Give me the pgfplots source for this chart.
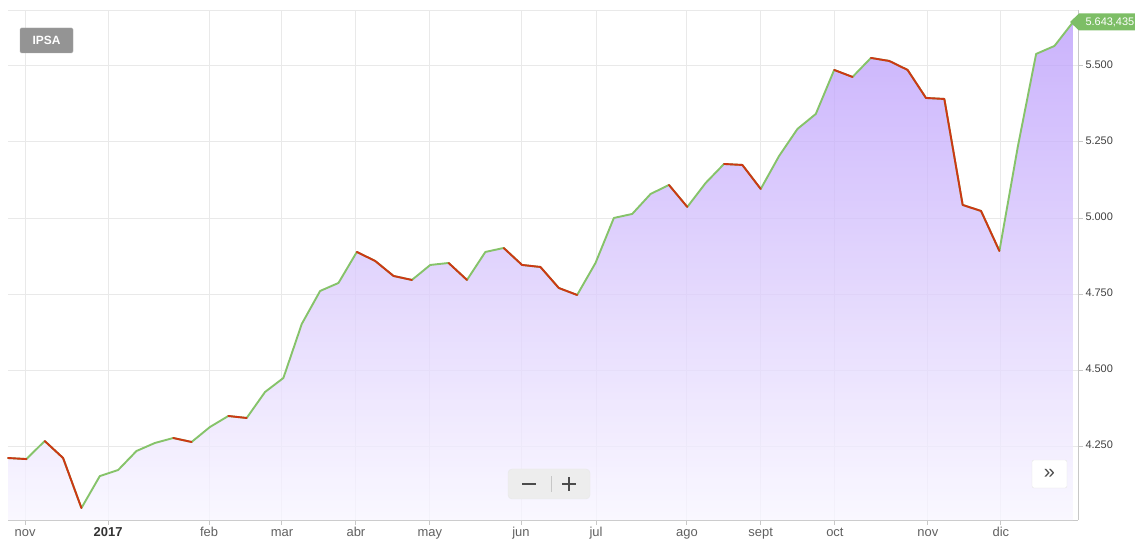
\documentclass[border=0pt]{standalone}
\usepackage{pgfplots}
\pgfplotsset{compat=1.18}
\usepackage{pgfplotstable}
\usepackage{fontspec}
\setmainfont{Liberation Sans}
\definecolor{gridgray}{HTML}{E9E9E9}
\definecolor{yeargray}{HTML}{D2D2D2}
\definecolor{axisgray}{HTML}{C8C8C8}
\definecolor{labelgray}{HTML}{606060}
\definecolor{upgreen}{HTML}{86C36A}
\definecolor{downred}{HTML}{CC3814}
\definecolor{filltop}{RGB}{188,158,251}
\definecolor{fillbot}{RGB}{248,246,255}
\definecolor{flaggreen}{HTML}{7DBE66}

\pgfplotstableread{
x y
0 4.2105
1 4.2070
2 4.2664
3 4.2105
4 4.0460
5 4.1510
6 4.1710
7 4.2336
8 4.2599
9 4.2763
10 4.2632
11 4.3125
12 4.3487
13 4.3421
14 4.4276
15 4.4737
16 4.6513
17 4.7599
18 4.7862
19 4.8882
20 4.8586
21 4.8092
22 4.7961
23 4.8454
24 4.8520
25 4.7961
26 4.8882
27 4.9013
28 4.8454
29 4.8388
30 4.7697
31 4.7467
32 4.8520
33 5.0000
34 5.0132
35 5.0789
36 5.1086
37 5.0362
38 5.1151
39 5.1776
40 5.1743
41 5.0954
42 5.2039
43 5.2928
44 5.3421
45 5.4868
46 5.4638
47 5.5263
48 5.5164
49 5.4868
50 5.3947
51 5.3914
52 5.0428
53 5.0230
54 4.8914
55 5.2336
56 5.5395
57 5.5658
58 5.6434
}\ipsa

\begin{document}
\begin{tikzpicture}
\begin{axis}[
  at={(0,0)}, anchor=south west,
  scale only axis, width=1070bp, height=510bp,
  xmin=0, xmax=58.28, ymin=4.0066, ymax=5.684,
  axis x line*=bottom, axis y line*=right,
  x axis line style={color=axisgray, line width=0.9bp, -},
  y axis line style={color=axisgray, line width=0.9bp, -},
  xtick={0.93,10.95,14.92,18.95,22.98,27.94,32.03,36.98,41.0,45.04,50.1,54.08},
  xticklabels={nov,feb,mar,abr,may,jun,jul,ago,sept,oct,nov,dic},
  extra x ticks={5.45},
  extra x tick labels={\textbf{2017}},
  extra x tick style={grid style={color=yeargray, line width=1.4bp}, xticklabel style={text=black!80}},
  ytick={4.25,4.5,4.75,5.0,5.25,5.5},
  yticklabels={4.250,4.500,4.750,5.000,5.250,5.500},
  grid=major,
  major grid style={color=gridgray, line width=0.9bp},
  tick align=outside, major tick length=5bp,
  tick style={color=axisgray, line width=0.9bp},
  typeset ticklabels with strut,
  xticklabel style={font=\fontsize{13}{15}\selectfont, text=labelgray, yshift=2bp},
  yticklabel style={font=\fontsize{11}{13}\selectfont, text=black!75, anchor=west, xshift=-1bp},
  clip=false,
]
\addplot[draw=none, top color=filltop, bottom color=fillbot, fill opacity=0.78]
  table[x=x, y=y]{\ipsa} |- (0,4.0066) -- cycle;
\addplot[color=upgreen, line width=1.9bp, line join=round, line cap=round]
  table[x=x, y=y]{\ipsa};
\addplot[color=downred, line width=1.9bp, line join=round, line cap=round, unbounded coords=jump]
  coordinates {(0,4.2105)(1,4.2070)(1.5,nan)(2,4.2664)(3,4.2105)(4,4.0460)(4.5,nan)
  (9,4.2763)(10,4.2632)(10.5,nan)(12,4.3487)(13,4.3421)(13.5,nan)
  (19,4.8882)(20,4.8586)(21,4.8092)(22,4.7961)(22.5,nan)(24,4.8520)(25,4.7961)(25.5,nan)
  (27,4.9013)(28,4.8454)(29,4.8388)(30,4.7697)(31,4.7467)(31.5,nan)
  (36,5.1086)(37,5.0362)(37.5,nan)(39,5.1776)(40,5.1743)(41,5.0954)(41.5,nan)
  (45,5.4868)(46,5.4638)(46.5,nan)
  (47,5.5263)(48,5.5164)(49,5.4868)(50,5.3947)(51,5.3914)(52,5.0428)(53,5.0230)(54,4.8914)};
\draw[gridgray, line width=0.9bp] (rel axis cs:0,1) -- (rel axis cs:1,1);
\end{axis}
% IPSA button
\draw[fill=black!42, draw=black!35, rounded corners=1.5bp] (12bp,467bp) rectangle (65bp,492bp);
\node[text=white, font=\fontsize{12}{14}\selectfont\bfseries] at (38.5bp,479.5bp) {IPSA};
% zoom buttons
\draw[fill=black!7, draw=black!9, rounded corners=4bp] (500bp,21bp) rectangle (582bp,51bp);
\draw[black!22, line width=0.8bp] (543bp,28bp) -- (543bp,44bp);
\draw[black!70, line width=2.4bp] (514bp,36bp) -- (528bp,36bp);
\draw[black!70, line width=2.4bp] (554bp,36bp) -- (568bp,36bp) (561bp,29bp) -- (561bp,43bp);
% next button
\draw[fill=white, draw=black!10, rounded corners=2bp] (1024bp,32bp) rectangle (1059bp,60bp);
\node[text=black!70, font=\fontsize{20}{22}\selectfont] at (1041.5bp,46.5bp) {»};
% value flag
\fill[flaggreen] (1062bp,498bp) -- (1071bp,506.5bp) -- (1130bp,506.5bp) -- (1130bp,489.5bp) -- (1071bp,489.5bp) -- cycle;
\node[text=white, anchor=west, font=\fontsize{11}{13}\selectfont] at (1074bp,498bp) {5.643,435};
\pgfresetboundingbox
\path[use as bounding box] (-8bp,-20bp) rectangle (1127bp,520bp);
\end{tikzpicture}
\end{document}
